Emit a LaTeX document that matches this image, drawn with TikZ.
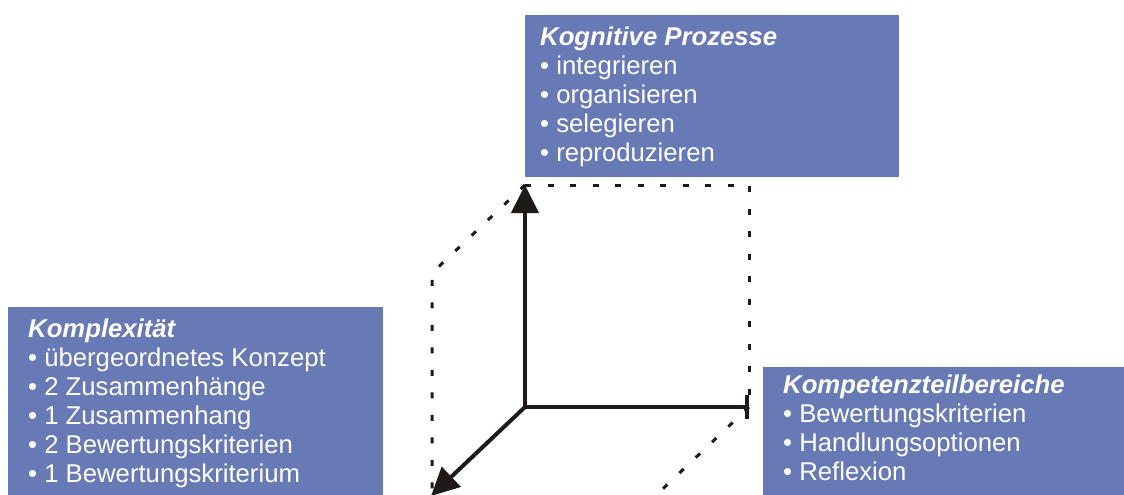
\documentclass[tikz,border=0pt]{standalone}
\usepackage{fontspec}
\setmainfont{Liberation Sans}
\usetikzlibrary{arrows.meta}
\definecolor{boxblue}{RGB}{103,122,181}
\tikzset{
  box/.style={fill=boxblue, draw=none, anchor=north west, inner sep=0pt},
  txt/.style={text=white, anchor=north west, inner sep=0pt, align=left, font=\fontsize{25.7}{29}\selectfont},
  axis/.style={line width=4pt, draw={rgb,255:red,30;green,26;blue,26}},
  guide/.style={line width=3pt, dash pattern=on 6pt off 16.5pt, draw={rgb,255:red,30;green,26;blue,26}},
  arrowtip/.style={-{Triangle[length=28pt,width=27pt]}},
}
\begin{document}
\begin{tikzpicture}[x=1pt,y=-1pt]
\useasboundingbox (0,0) rectangle (1124,495);
\clip (0,0) rectangle (1124,495);
% boxes
\node[box, minimum width=374pt, minimum height=162pt] (kpbox) at (525,15) {};
\node[txt] (kptext) at (540,27) {\textbf{\textit{Kognitive Prozesse}}\\• integrieren\\• organisieren\\• selegieren\\• reproduzieren};
\node[box, minimum width=375pt, minimum height=200pt] (kobox) at (8,307) {};
\node[txt] (kotext) at (28,319) {\textbf{\textit{Komplexität}}\\• übergeordnetes Konzept\\• 2 Zusammenhänge\\• 1 Zusammenhang\\• 2 Bewertungskriterien\\• 1 Bewertungskriterium};
\node[box, minimum width=370pt, minimum height=140pt] (ktbox) at (763,367) {};
\node[txt] (kttext) at (783,375) {\textbf{\textit{Kompetenzteilbereiche}}\\• Bewertungskriterien\\• Handlungsoptionen\\• Reflexion};
% coordinates
\coordinate (O) at (525,407);
\coordinate (U) at (525,185);
\coordinate (R) at (749,407);
\coordinate (F) at (431,496);
\coordinate (UR) at (749,185);
\coordinate (URb) at (749,395);
\coordinate (UL) at (432,273);
\coordinate (LB) at (432,500);
\coordinate (RB) at (651,500);
% dotted guides
\draw[guide] (U) -- (UR) -- (URb);
\draw[guide] (U) -- (UL) -- (LB);
\draw[guide] (R) -- (RB);
% axes
\draw[axis, arrowtip] (O) -- (U);
\draw[axis, -{Bar[width=24pt]}] (O) -- (R);
\draw[axis, arrowtip] (O) -- (F);
\end{tikzpicture}
\end{document}
